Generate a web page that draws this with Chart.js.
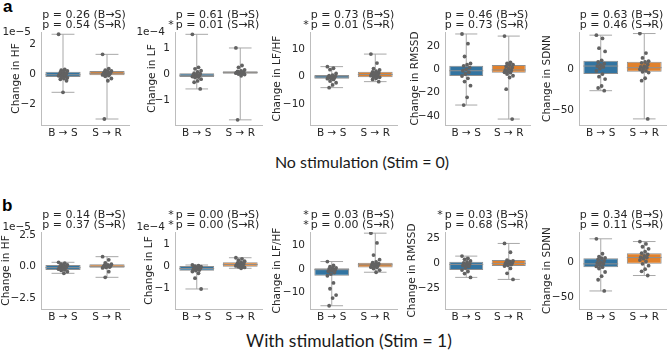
<!DOCTYPE html>
<html lang="en">
<head>
  <meta charset="UTF-8">
  <title>Change in HRV measures</title>
  <script src="https://cdn.jsdelivr.net/npm/chart.js"></script>
  <style>
    body { margin: 0; width: 667px; height: 352px; position: relative; overflow: hidden; background: #fff; }
    .tag { position: absolute; font: bold 17px "Liberation Sans"; line-height: 17px; color: #000; }
    .caption { position: absolute; font-family: Lato; line-height: 20px; color: #1a1a1a; white-space: nowrap; transform: translateX(-50%); }
  </style>
</head>
<body>
  <div class="tag" style="left:3px;top:-2px">a</div>
  <div class="tag" style="left:2px;top:197px">b</div>
  <div class="caption" style="left:362px;top:152px;font-size:16px">No stimulation (Stim = 0)</div>
  <div class="caption" style="left:349px;top:331px;font-size:17.5px">With stimulation (Stim = 1)</div>
  <script>
    const groups = ['B \u2192 S', 'S \u2192 R'];

    // stats per group : [low whisker, Q1, median, Q3, high whisker]
    // Stim = 0
    const hf0Stats = [[-1.22, -0.2, -0.05, 0.15, 2.65], [-3.0, -0.09, 0.05, 0.2, 1.31]];
    const hf0Bs = [2.65, 0.3, 0.25, 0.2, 0.15, 0.1, 0.05, 0.0, -0.02, -0.05, -0.08, -0.12, -0.18, -0.2, -0.25, -0.3, -0.35, -0.45, -1.22];
    const hf0Sr = [1.31, 0.35, 0.25, 0.2, 0.15, 0.12, 0.08, 0.05, 0.03, 0.0, -0.03, -0.06, -0.1, -0.15, -0.3, -0.45, -3.0];
    const hf0Ticks = [-2, 0, 2];
    const hf0Range = [-3.4, 2.8];

    const lf0Stats = [[-0.56, -0.1, -0.03, 0.05, 1.56], [-1.76, 0.03, 0.08, 0.13, 1.03]];
    const lf0Bs = [1.56, 0.28, 0.22, 0.15, 0.1, 0.05, 0.03, 0.0, -0.02, -0.04, -0.06, -0.08, -0.1, -0.12, -0.18, -0.25, -0.3, -0.56];
    const lf0Sr = [1.03, 0.35, 0.28, 0.18, 0.14, 0.12, 0.1, 0.09, 0.08, 0.07, 0.06, 0.05, 0.04, 0.02, 0.0, -0.05, -1.76];
    const lf0Ticks = [-1, 0, 1];
    const lf0Range = [-1.96, 1.65];

    const ratio0Stats = [[-4.0, -0.7, -0.1, 0.6, 3.7], [-1.8, -0.2, 0.8, 1.8, 8.3]];
    const ratio0Bs = [3.7, 3.1, 2.6, 1.2, 0.6, 0.4, 0.2, 0.0, -0.2, -0.4, -0.6, -0.7, -1.0, -1.6, -2.2, -3.0, -4.0];
    const ratio0Sr = [8.3, 5.0, 3.0, 2.5, 2.0, 1.8, 1.5, 1.2, 1.0, 0.8, 0.6, 0.4, 0.2, 0.0, -0.2, -0.6, -1.0, -1.8];
    const ratio0Ticks = [-10, 0, 10];
    const ratio0Range = [-17.7, 16.4];

    const rmssd0Stats = [[-30.6, -5.7, -1.2, 3.1, 30.3], [-42.6, -2.9, -0.5, 3.7, 28.5]];
    const rmssd0Bs = [30.3, 22, 11, 5, 4, 3, 1.5, 0, -1.2, -2.5, -4, -5.7, -7.7, -10.5, -14, -24, -30.6];
    const rmssd0Sr = [28.5, 6, 5, 4, 3.7, 2.5, 1.5, 0.5, -0.5, -1, -1.8, -2.5, -2.9, -4, -5.5, -7, -17, -42.6];
    const rmssd0Ticks = [-40, -20, 0, 20];
    const rmssd0Range = [-47.7, 32];

    const sdnn0Stats = [[-26.3, -5.8, 4, 10.6, 42], [-61, -2.9, 2, 9.4, 44]];
    const sdnn0Bs = [42, 38, 26, 22, 11, 9, 7, 5, 4, 3, 1, -2, -5.8, -9, -12, -20.5, -23, -26.3];
    const sdnn0Sr = [44, 20, 14, 10, 9, 8, 6, 4, 3, 2, 1, 0, -2, -3, -4, -11, -14, -61];
    const sdnn0Ticks = [-50, 0];
    const sdnn0Range = [-68.5, 45.9];

    // Stim = 1
    const hf1Stats = [[-0.53, -0.26, -0.08, 0.14, 0.35], [-0.85, -0.08, 0.03, 0.19, 0.8]];
    const hf1Bs = [0.35, 0.28, 0.2, 0.14, 0.1, 0.05, 0.0, -0.03, -0.06, -0.1, -0.15, -0.2, -0.26, -0.3, -0.4, -0.53];
    const hf1Sr = [0.8, 0.55, 0.3, 0.2, 0.15, 0.1, 0.06, 0.03, 0.0, -0.03, -0.06, -0.1, -0.4, -0.85];
    const hf1Ticks = [-2.5, 0, 2.5];
    const hf1Range = [-3.38, 2.77];

    const lf1Stats = [[-1.01, -0.18, -0.08, 0.04, 0.08], [-0.07, 0.0, 0.1, 0.2, 0.41]];
    const lf1Bs = [0.08, 0.05, 0.03, 0.0, -0.02, -0.05, -0.08, -0.1, -0.12, -0.15, -0.18, -0.22, -0.3, -0.52, -1.01];
    const lf1Sr = [0.41, 0.36, 0.3, 0.25, 0.2, 0.17, 0.14, 0.12, 0.1, 0.08, 0.06, 0.04, 0.02, 0.0, -0.03, -0.07];
    const lf1Ticks = [-1, 0, 1];
    const lf1Range = [-1.92, 1.58];

    const ratio1Stats = [[-15.8, -2.9, -0.3, 0.3, 3.2], [-1.4, 0.6, 1.8, 2.7, 15.4]];
    const ratio1Bs = [3.2, 1.5, 1.0, 0.5, 0.3, 0, -0.3, -0.6, -1.0, -1.5, -2.2, -2.9, -6.0, -8.5, -11.2, -12.5, -15.8];
    const ratio1Sr = [15.4, 11.2, 6.0, 4.0, 3.0, 2.7, 2.3, 2.0, 1.8, 1.5, 1.2, 0.8, 0.6, 0.2, -0.5, -1.4];
    const ratio1Ticks = [-10, 0, 10];
    const ratio1Range = [-17.2, 15.9];

    const rmssd1Stats = [[-13.8, -6.6, -1, 1.6, 7.2], [-15.8, -2.6, 0, 3.3, 19.7]];
    const rmssd1Bs = [7.2, 5, 4, 2.5, 1.6, 0.5, -0.5, -1, -2, -3, -4.5, -6.6, -8, -10, -13.8];
    const rmssd1Sr = [19.7, 11, 3.3, 2.5, 2, 1, 0.3, 0, -0.5, -1.2, -2, -2.6, -5, -9.8, -15.8];
    const rmssd1Ticks = [-25, 0, 25];
    const rmssd1Range = [-45, 31];

    const sdnn1Stats = [[-41, -7.1, -2.4, 5.7, 33.3], [-19, -2.4, 6.6, 12.9, 29.4]];
    const sdnn1Bs = [33.3, 12, 8, 6, 5.7, 4, 2, 0, -1, -2.4, -4, -6, -7.1, -9, -14, -20, -25, -41];
    const sdnn1Sr = [29.4, 26, 22, 19, 15, 12.9, 11, 9, 7, 6.6, 5, 3, 1, -2.4, -5, -10, -13, -19];
    const sdnn1Ticks = [-50, 0];
    const sdnn1Range = [-66.7, 43];

    // p-value annotations
    const pHf0 = ['p = 0.26 (B\u2192S)', 'p = 0.54 (S\u2192R)'];
    const pLf0 = ['p = 0.61 (B\u2192S)', '* p = 0.01 (S\u2192R)'];
    const pRatio0 = ['p = 0.73 (B\u2192S)', '* p = 0.01 (S\u2192R)'];
    const pRmssd0 = ['p = 0.46 (B\u2192S)', 'p = 0.73 (S\u2192R)'];
    const pSdnn0 = ['p = 0.63 (B\u2192S)', 'p = 0.46 (S\u2192R)'];
    const pHf1 = ['p = 0.14 (B\u2192S)', 'p = 0.37 (S\u2192R)'];
    const pLf1 = ['* p = 0.00 (B\u2192S)', '* p = 0.00 (S\u2192R)'];
    const pRatio1 = ['* p = 0.03 (B\u2192S)', '* p = 0.00 (S\u2192R)'];
    const pRmssd1 = ['* p = 0.03 (B\u2192S)', 'p = 0.68 (S\u2192R)'];
    const pSdnn1 = ['p = 0.34 (B\u2192S)', 'p = 0.11 (S\u2192R)'];

    const panels = [
      { row: 0, col: 0, label: 'Change in HF', exp: '1e\u22125', p: pHf0, stats: hf0Stats, pts: [hf0Bs, hf0Sr], ticks: hf0Ticks, range: hf0Range, dec: 0 },
      { row: 0, col: 1, label: 'Change in LF', exp: '1e\u22124', p: pLf0, stats: lf0Stats, pts: [lf0Bs, lf0Sr], ticks: lf0Ticks, range: lf0Range, dec: 0 },
      { row: 0, col: 2, label: 'Change in LF/HF', exp: '', p: pRatio0, stats: ratio0Stats, pts: [ratio0Bs, ratio0Sr], ticks: ratio0Ticks, range: ratio0Range, dec: 0 },
      { row: 0, col: 3, label: 'Change in RMSSD', exp: '', p: pRmssd0, stats: rmssd0Stats, pts: [rmssd0Bs, rmssd0Sr], ticks: rmssd0Ticks, range: rmssd0Range, dec: 0 },
      { row: 0, col: 4, label: 'Change in SDNN', exp: '', p: pSdnn0, stats: sdnn0Stats, pts: [sdnn0Bs, sdnn0Sr], ticks: sdnn0Ticks, range: sdnn0Range, dec: 0 },
      { row: 1, col: 0, label: 'Change in HF', exp: '1e\u22125', p: pHf1, stats: hf1Stats, pts: [hf1Bs, hf1Sr], ticks: hf1Ticks, range: hf1Range, dec: 1 },
      { row: 1, col: 1, label: 'Change in LF', exp: '1e\u22124', p: pLf1, stats: lf1Stats, pts: [lf1Bs, lf1Sr], ticks: lf1Ticks, range: lf1Range, dec: 0 },
      { row: 1, col: 2, label: 'Change in LF/HF', exp: '', p: pRatio1, stats: ratio1Stats, pts: [ratio1Bs, ratio1Sr], ticks: ratio1Ticks, range: ratio1Range, dec: 0 },
      { row: 1, col: 3, label: 'Change in RMSSD', exp: '', p: pRmssd1, stats: rmssd1Stats, pts: [rmssd1Bs, rmssd1Sr], ticks: rmssd1Ticks, range: rmssd1Range, dec: 0 },
      { row: 1, col: 4, label: 'Change in SDNN', exp: '', p: pSdnn1, stats: sdnn1Stats, pts: [sdnn1Bs, sdnn1Sr], ticks: sdnn1Ticks, range: sdnn1Range, dec: 0 }
    ];

    // layout of the grid (pixels)
    const colLeft = [41, 175, 310, 445, 579];
    const colWidth = [88, 87, 87, 85, 87];
    const rowTop = [32, 232];
    const rowHeight = [93, 77];
    const titleGap = [[25, 23, 32.5, 30, 31.5], [35, 26, 33, 32.5, 31.5]];
    const expDy = [0, -5];

    const boxColors = ['#3274a1', '#e1812c'];
    const edgeGray = '#8f8f8f';
    const whiskerGray = '#a8a8a8';
    const textColor = '#262626';
    const font = { family: 'DejaVu Sans', size: 10.5 };

    const padL = 12, padT = 30, padR = 4, xAxisH = 20;

    // stripplot jitter pattern
    const jitter = i => ((i * 7) % 11 - 5) / 50;

    const fmt = dec => v => (v < 0 ? '\u2212' : '') + Math.abs(v).toFixed(dec);

    const panelText = {
      id: 'panelText',
      afterDraw(chart, args, opts) {
        const { ctx, chartArea: a } = chart;
        ctx.save();
        ctx.fillStyle = textColor;
        ctx.font = '11px "DejaVu Sans"';
        ctx.textBaseline = 'middle';
        const cx = (a.left + a.right) / 2 - 1;
        opts.lines.forEach((t, i) => {
          const y = a.top - 16.5 + i * 9.5;
          let txt = t;
          if (t.startsWith('* ')) {
            txt = t.slice(2);
            const w = ctx.measureText(txt).width;
            ctx.textAlign = 'right';
            ctx.fillText('*', cx - w / 2 - 2, y);
          }
          ctx.textAlign = 'center';
          ctx.fillText(txt, cx, y);
        });
        if (opts.exp) {
          ctx.font = '10.5px "DejaVu Sans"';
          ctx.textAlign = 'right';
          ctx.fillText(opts.exp, a.left - 10, a.top + opts.expDy);
        }
        ctx.restore();
      }
    };

    function segment(pts, color, order) {
      return {
        type: 'line',
        data: pts.map(([x, y]) => ({ x, y })),
        borderColor: color,
        borderWidth: 1,
        pointRadius: 0,
        fill: false,
        order
      };
    }

    function buildDatasets(stats, pts) {
      const ds = [];
      ds.push({
        type: 'scatter',
        data: pts.flatMap((arr, g) => arr.map((y, i) => ({ x: g + jitter(i), y }))),
        pointRadius: 1.9,
        backgroundColor: '#626262',
        borderWidth: 0,
        order: 0
      });
      stats.forEach((s, g) => ds.push(segment([[g - 0.4, s[2]], [g + 0.4, s[2]]], edgeGray, 1)));
      ds.push({
        type: 'bar',
        data: stats.map((s, g) => ({ x: g, y: [s[1], s[3]] })),
        backgroundColor: boxColors,
        borderColor: edgeGray,
        borderWidth: 1,
        borderSkipped: false,
        categoryPercentage: 1,
        barPercentage: 0.8,
        order: 2
      });
      stats.forEach((s, g) => {
        ds.push(segment([[g, s[0]], [g, s[4]]], whiskerGray, 3));
        ds.push(segment([[g - 0.26, s[0]], [g + 0.26, s[0]]], whiskerGray, 3));
        ds.push(segment([[g - 0.26, s[4]], [g + 0.26, s[4]]], whiskerGray, 3));
      });
      return ds;
    }

    panels.forEach(p => {
      const L = colLeft[p.col], W = colWidth[p.col];
      const T = rowTop[p.row], H = rowHeight[p.row];
      const yW = Math.round(titleGap[p.row][p.col] + font.size * 0.6);
      const cw = padL + yW + W + padR;
      const ch = padT + H + xAxisH;
      const canvas = document.createElement('canvas');
      canvas.width = cw;
      canvas.height = ch;
      canvas.style.cssText = 'position:absolute;left:' + (L - yW - padL) + 'px;top:' + (T - padT) + 'px;width:' + cw + 'px;height:' + ch + 'px';
      document.body.appendChild(canvas);

      new Chart(canvas, {
        type: 'bar',
        data: { datasets: buildDatasets(p.stats, p.pts) },
        options: {
          responsive: false,
          animation: false,
          layout: { padding: { left: padL, top: padT, right: padR, bottom: 0 } },
          plugins: {
            legend: { display: false },
            tooltip: { enabled: false },
            panelText: { lines: p.p, exp: p.exp, expDy: expDy[p.row] }
          },
          scales: {
            x: {
              type: 'linear',
              offset: false,
              min: -0.5,
              max: 1.5,
              afterBuildTicks: s => { s.ticks = [{ value: 0 }, { value: 1 }]; },
              afterFit: s => { s.height = xAxisH; },
              ticks: { callback: v => groups[v], font, color: textColor, padding: 2, maxRotation: 0, autoSkip: false },
              grid: { display: false, drawTicks: false },
              border: { color: '#bdbdbd', width: 1 }
            },
            y: {
              min: p.range[0],
              max: p.range[1],
              afterBuildTicks: s => { s.ticks = p.ticks.map(v => ({ value: v })); },
              afterFit: s => { s.width = yW; },
              ticks: { callback: fmt(p.dec), font, color: textColor, padding: 5 },
              grid: { display: false, drawTicks: false },
              border: { color: '#bdbdbd', width: 1 },
              title: { display: true, text: p.label, font, color: textColor, padding: 0 }
            }
          }
        },
        plugins: [panelText]
      });
    });
  </script>
</body>
</html>
